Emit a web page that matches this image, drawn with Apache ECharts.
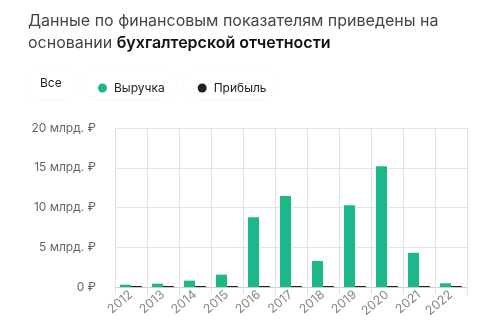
<!DOCTYPE html>
<html><head><meta charset="utf-8">
<script src="https://cdn.jsdelivr.net/npm/echarts@6/dist/echarts.min.js"></script>
<style>html,body{margin:0;padding:0;background:#fff}#c{width:500px;height:336px}</style>
</head><body><div id="c"></div>
<script>
const years = ['2012','2013','2014','2015','2016','2017','2018','2019','2020','2021','2022'];
const revenue = [0.29, 0.42, 0.8, 1.55, 8.77, 11.45, 3.27, 10.28, 15.2, 4.3, 0.47];
const profit = [0.01, 0.01, 0.01, 0.01, 0.01, 0.01, 0.01, 0.01, 0.01, 0.01, 0.01];
const yTicks = [0, 5, 10, 15, 20];
const legendNames = ['Все', 'Выручка', 'Прибыль'];
const green = '#1bb98a';
const font = 'Inter, "Noto Sans", sans-serif';

const chart = echarts.init(document.getElementById('c'), null, {renderer: 'canvas'});
const pill = (x, w) => ({type: 'rect', shape: {x: x, y: 69, width: w, height: 29, r: 14},
  style: {fill: '#fff', shadowBlur: 5, shadowColor: 'rgba(0,0,0,0.035)', shadowOffsetY: 1}, z: 1});
chart.setOption({
  animation: false,
  textStyle: {fontFamily: font},
  graphic: [
    {type: 'text', left: 28, top: 10, style: {
      text: 'Данные по финансовым показателям приведены на\n{n|основании }{b|бухгалтерской отчетности}',
      font: '16px ' + font, fill: '#444', lineHeight: 22,
      rich: {n: {fontSize: 16, fill: '#444', fontFamily: font}, b: {fontSize: 16, fontWeight: 600, fill: '#111', fontFamily: font}}
    }},
    pill(26, 50), pill(84, 92), pill(184, 92),
    {type: 'text', x: 40, y: 83, style: {text: legendNames[0], font: '12px ' + font, fill: '#222', textVerticalAlign: 'middle'}, z: 2}
  ],
  legend: {
    data: [legendNames[1], legendNames[2]],
    left: 93, top: 77, itemWidth: 9, itemHeight: 9, itemGap: 33, icon: 'circle',
    textStyle: {fontSize: 12, color: '#222', fontFamily: font, padding: [0, 0, 0, 2]},
    z: 5
  },
  grid: {left: 115, right: 33, top: 128, bottom: 49},
  xAxis: {
    type: 'category', data: years, boundaryGap: true,
    axisLine: {lineStyle: {color: '#ccc'}},
    axisTick: {show: true, length: 8, lineStyle: {color: '#e3e3e3'}},
    splitLine: {show: true, lineStyle: {color: '#e3e3e3'}},
    axisLabel: {rotate: 40, fontSize: 12.5, color: '#888', fontFamily: font, margin: 6}
  },
  yAxis: {
    type: 'value', min: yTicks[0], max: yTicks[yTicks.length - 1], interval: 5,
    axisLine: {show: false}, axisTick: {show: false},
    splitLine: {lineStyle: {color: '#e3e3e3'}},
    axisLabel: {fontSize: 12, color: '#666', fontFamily: font, margin: 19,
      formatter: v => v === 0 ? '0 ₽' : v + ' млрд. ₽'}
  },
  series: [
    {name: legendNames[1], type: 'bar', data: revenue, barWidth: 11, barGap: '0%', itemStyle: {color: green}},
    {name: legendNames[2], type: 'bar', data: profit, barWidth: 11, barMinHeight: 1, itemStyle: {color: '#222'}}
  ]
});
</script></body></html>
